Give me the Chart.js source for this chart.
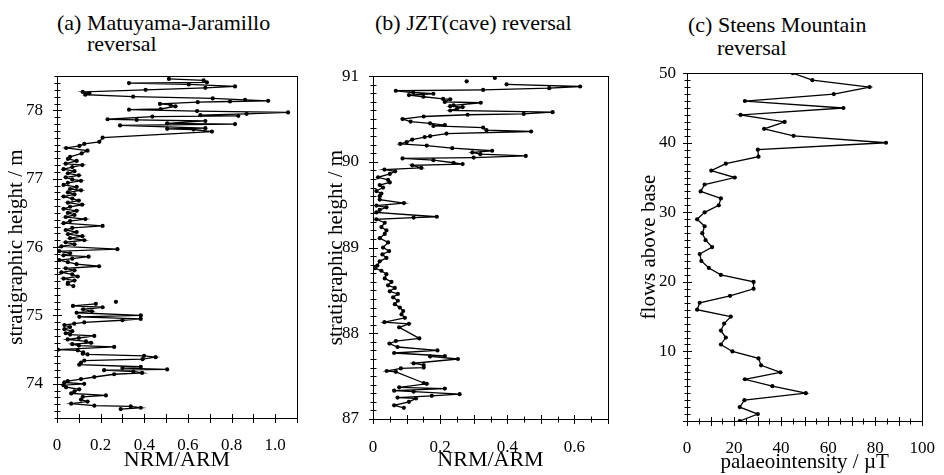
<!DOCTYPE html>
<html>
<head>
<meta charset="utf-8">
<script src="https://cdn.jsdelivr.net/npm/chart.js@4/dist/chart.umd.min.js"></script>
<style>
	body { margin: 0; background: #fff; }
	#page { position: relative; width: 944px; height: 475px; overflow: hidden; background: #fff; }
	canvas { position: absolute; }
	.ttl { position: absolute; font-family: 'Liberation Serif', serif; font-size: 22px; line-height: 22px; color: #000; white-space: nowrap; }
</style>
</head>
<body>
<div id="page">
	<div class="ttl" style="left:57px; top:12px;">(a) Matuyama-Jaramillo</div>
	<div class="ttl" style="left:87px; top:33px;">reversal</div>
	<div class="ttl" style="left:375px; top:12px;">(b) JZT(cave) reversal</div>
	<div class="ttl" style="left:688px; top:14px;">(c) Steens Mountain</div>
	<div class="ttl" style="left:717px; top:37px;">reversal</div>
	<canvas id="chartA" width="306" height="415" style="left:0px; top:60px;"></canvas>
	<canvas id="chartB" width="308" height="415" style="left:310px; top:60px;"></canvas>
	<canvas id="chartC" width="319" height="415" style="left:625px; top:60px;"></canvas>
</div>
<script>
'use strict';

// (a) Matuyama-Jaramillo: stratigraphic height (m) and NRM/ARM
var heightA1 = [78.46, 78.44, 78.41, 78.40, 78.38, 78.35, 78.33, 78.30, 78.27, 78.25, 78.23, 78.20, 78.175, 78.155, 78.14, 78.13,
	78.12, 78.095, 78.08, 78.06, 78.02, 78.01, 77.99, 77.97, 77.95, 77.93, 77.92, 77.91, 77.87, 77.86, 77.845, 77.81, 77.80,
	77.78, 77.74, 77.73, 77.72, 77.69, 77.60, 77.54, 77.51, 77.48, 77.45, 77.41, 77.37, 77.32, 77.29, 77.26, 77.22, 77.20,
	77.17, 77.14, 77.11, 77.08, 77.05, 77.02, 76.99, 76.97, 76.94, 76.91, 76.88, 76.85, 76.83, 76.80, 76.77, 76.74, 76.71,
	76.68, 76.65, 76.62, 76.59, 76.56, 76.53, 76.50, 76.47, 76.44, 76.41, 76.38, 76.35, 76.31, 76.28, 76.25, 76.22, 76.19,
	76.16, 76.13, 76.10, 76.07, 76.04, 76.01, 75.97, 75.94, 75.91, 75.88, 75.86, 75.83, 75.81, 75.78, 75.75, 75.72, 75.69,
	75.66, 75.63, 75.60, 75.57, 75.54, 75.51, 75.48, 75.46, 75.43];
var nrmA1 = [0.513, 0.672, 0.687, 0.330, 0.604, 0.816, 0.680, 0.406, 0.118, 0.148, 0.130, 0.349, 0.714, 0.862, 0.968, 0.793,
	0.645, 0.472, 0.520, 0.543, 0.475, 0.330, 0.642, 1.059, 0.869, 0.657, 0.831, 0.437, 0.232, 0.365, 0.680, 0.505, 0.816,
	0.289, 0.680, 0.505, 0.626, 0.710, 0.209, 0.194, 0.125, 0.103, 0.042, 0.140, 0.113, 0.06, 0.05, 0.09, 0.04, 0.116,
	0.07, 0.03, 0.08, 0.05, 0.10, 0.04, 0.07, 0.11, 0.05, 0.03, 0.09, 0.06, 0.11, 0.05, 0.08, 0.03, 0.07,
	0.10, 0.05, 0.115, 0.06, 0.03, 0.09, 0.05, 0.08, 0.04, 0.13, 0.06, 0.03, 0.209, 0.07, 0.04, 0.09, 0.05,
	0.116, 0.06, 0.125, 0.04, 0.08, 0.02, 0.277, 0.01, 0.06, 0.03, 0.145, 0.07, 0.01, 0.05, 0.09, 0.193, 0.04,
	0.08, 0.02, 0.07, 0.095, 0.03, 0.08, 0.05, 0.049, 0.075];
var heightA2 = [75.17, 75.14, 75.12, 75.09, 75.06, 75.04, 75.00, 74.98, 74.95, 74.93, 74.90, 74.88, 74.86, 74.83, 74.80, 74.77,
	74.74, 74.72, 74.70, 74.67, 74.65, 74.62, 74.60, 74.58, 74.56, 74.54, 74.50, 74.49, 74.46, 74.44, 74.43, 74.41, 74.39,
	74.36, 74.34, 74.31, 74.28, 74.25, 74.23, 74.21, 74.20, 74.18, 74.16, 74.14, 74.10, 74.07, 74.04, 74.02, 74.00, 73.98,
	73.95, 73.92, 73.89, 73.86, 73.83, 73.81, 73.77, 73.74, 73.71, 73.68, 73.67, 73.65, 73.63];
var nrmA2 = [0.178, 0.073, 0.209, 0.12, 0.16, 0.09, 0.384, 0.102, 0.384, 0.30, 0.125, 0.079, 0.034, 0.06, 0.034, 0.07,
	0.04, 0.06, 0.171, 0.10, 0.049, 0.133, 0.156, 0.07, 0.10, 0.262, 0.004, 0.095, 0.12, 0.118, 0.14, 0.399, 0.452,
	0.392, 0.125, 0.11, 0.102, 0.384, 0.30, 0.505, 0.216, 0.35, 0.39, 0.262, 0.171, 0.11, 0.049, 0.034, 0.125, 0.03,
	0.042, 0.102, 0.08, 0.065, 0.224, 0.118, 0.11, 0.14, 0.065, 0.171, 0.338, 0.384, 0.292];
var heightA3 = [75.20];
var nrmA3 = [0.27];

// (b) JZT(cave)
var heightB1 = [90.905, 90.88, 90.86, 90.84, 90.83, 90.81, 90.795, 90.78, 90.76, 90.735, 90.73, 90.70, 90.69, 90.66, 90.65,
	90.64, 90.62, 90.60, 90.58, 90.56, 90.55, 90.53, 90.50, 90.47, 90.45, 90.43, 90.42, 90.40, 90.37, 90.355, 90.33, 90.30,
	90.29, 90.26, 90.23, 90.21, 90.19, 90.16, 90.13, 90.11, 90.09, 90.07, 90.05, 90.04, 90.02, 89.99, 89.975, 89.96, 89.93,
	89.91, 89.89, 89.86, 89.82, 89.79, 89.76, 89.73, 89.70, 89.66, 89.63, 89.60, 89.56, 89.52, 89.49, 89.47, 89.44, 89.41,
	89.36, 89.35, 89.33, 89.29, 89.24, 89.20, 89.16, 89.11, 89.06, 89.00, 88.96, 88.92, 88.88, 88.84, 88.79, 88.76, 88.73,
	88.69, 88.64, 88.60, 88.56, 88.53, 88.49, 88.46, 88.42, 88.38, 88.34, 88.30, 88.26, 88.22, 88.18, 88.13, 88.11, 88.07,
	87.94, 87.91, 87.88, 87.84, 87.80, 87.77, 87.735, 87.73, 87.70, 87.65, 87.63, 87.60, 87.59, 87.56, 87.55, 87.42, 87.41,
	87.37, 87.355, 87.33, 87.32, 87.29, 87.27, 87.25, 87.24, 87.20, 87.16, 87.13];
var nrmB1 = [0.398, 0.617, 0.525, 0.328, 0.068, 0.12, 0.18, 0.107, 0.15, 0.209, 0.23, 0.214, 0.321, 0.24, 0.23,
	0.267, 0.25, 0.23, 0.535, 0.449, 0.282, 0.151, 0.088, 0.112, 0.17, 0.214, 0.18, 0.328, 0.338, 0.471, 0.219, 0.17,
	0.154, 0.117, 0.10, 0.081, 0.16, 0.236, 0.355, 0.296, 0.32, 0.455, 0.30, 0.088, 0.18, 0.24, 0.267, 0.117, 0.144,
	0.034, 0.066, 0.05, 0.015, 0.045, 0.05, 0.02, 0.03, 0.01, 0.025, 0.02, 0.02, 0.092, 0.01, 0.04, 0.02, 0.01,
	0.19, 0.121, 0.01, 0.035, 0.025, 0.04, 0.035, 0.02, 0.045, 0.03, 0.048, 0.028, 0.04, 0.02, 0.013, 0.006, 0.025,
	0.04, 0.035, 0.055, 0.045, 0.065, 0.05, 0.074, 0.06, 0.074, 0.065, 0.08, 0.09, 0.085, 0.095, 0.034, 0.107, 0.078,
	0.138, 0.068, 0.049, 0.073, 0.192, 0.063, 0.214, 0.17, 0.253, 0.121, 0.151, 0.151, 0.083, 0.041, 0.068, 0.151, 0.16,
	0.078, 0.214, 0.063, 0.121, 0.258, 0.175, 0.073, 0.128, 0.107, 0.063, 0.092];
var heightB2 = [90.98, 90.94];
var nrmB2 = [0.363, 0.279];

// (c) Steens Mountain: flows above base and palaeointensity (uT)
var flowsC = [0, 1, 2, 3, 4, 5, 6, 7, 8, 9, 10, 11, 12, 13, 14, 15, 16, 17, 18, 19, 20, 21, 22, 23, 24, 25,
	26, 27, 28, 29, 30, 31, 32, 33, 34, 35, 36, 37, 38, 39, 40, 41, 42, 43, 44, 45, 46, 47, 48, 49, 50];
var intensityC = [22.4, 30.1, 22.4, 24.4, 50.5, 36.3, 24.6, 39.7, 31.5, 30.4, 19.3, 14.4, 16.5, 14.4, 15.8, 18.6,
	4.3, 5.4, 18.3, 28.3, 28.3, 14.4, 9.3, 6.1, 5.4, 10.7, 7.9, 6.5, 7.5, 4.3, 7.5, 13.5, 14.4, 5.8, 7.5, 20.3,
	10.3, 16.5, 30.4, 30.1, 84.6, 45.3, 32.8, 41.5, 22.8, 66.5, 24.6, 62.4, 77.6, 53.3, 45];

var serif = "'Liberation Serif', 'Times New Roman', serif";

function toPoints(xs, ys) {
	return xs.map(function (x, i) { return { x: x, y: ys[i] }; });
}

function lineSet(xs, ys) {
	return { data: toPoints(xs, ys), showLine: true, borderColor: '#000', borderWidth: 1.3,
		backgroundColor: '#000', pointRadius: 2.1, pointBorderWidth: 0, pointHoverRadius: 2.1 };
}

function dotSet(xs, ys) {
	return { data: toPoints(xs, ys), showLine: false, backgroundColor: '#000', pointRadius: 2.1,
		pointBorderWidth: 0 };
}

function near(v, step) {
	return Math.abs(v / step - Math.round(v / step)) < 1e-6;
}

// frame + ticks crossing the axis lines
var axisMarks = {
	id: 'axisMarks',
	afterDraw: function (chart) {
		var ctx = chart.ctx, a = chart.chartArea;
		var xs = chart.scales.x, ys = chart.scales.y;
		var major = chart.options.plugins.axisMarks;
		ctx.save();
		ctx.strokeStyle = '#000';
		ctx.lineWidth = 1;
		ctx.strokeRect(Math.round(a.left) + 0.5, Math.round(a.top) + 0.5, Math.round(a.right - a.left), Math.round(a.bottom - a.top));
		ctx.beginPath();
		xs.ticks.forEach(function (t) {
			var px = Math.round(xs.getPixelForValue(t.value)) + 0.5;
			var len = near(t.value, major.x) ? 4 : 2.5;
			ctx.moveTo(px, Math.round(a.bottom) - len);
			ctx.lineTo(px, Math.round(a.bottom) + len + 1);
		});
		ys.ticks.forEach(function (t) {
			var py = Math.round(ys.getPixelForValue(t.value)) + 0.5;
			var len = near(t.value, major.y) ? 4 : 2.5;
			ctx.moveTo(Math.round(a.left) - len, py);
			ctx.lineTo(Math.round(a.left) + len + 1, py);
		});
		ctx.stroke();
		ctx.restore();
	}
};

function makeChart(id, datasets, o) {
	var ctx = document.getElementById(id).getContext('2d');
	return new Chart(ctx, {
		type: 'scatter',
		data: { datasets: datasets },
		plugins: [axisMarks],
		options: {
			responsive: false,
			animation: false,
			devicePixelRatio: 1,
			layout: { padding: o.padding },
			plugins: {
				legend: { display: false },
				tooltip: { enabled: false },
				axisMarks: { x: o.xMajor, y: o.yMajor }
			},
			scales: {
				x: {
					type: 'linear', min: o.xMin, max: o.xMax,
					grid: { display: false },
					border: { display: true, color: '#000', width: 1 },
					ticks: {
						stepSize: o.xStep, autoSkip: false, maxRotation: 0, padding: o.xPad,
						color: '#000', font: { family: serif, size: 17 },
						callback: function (v) { return near(v, o.xLabel) ? o.xFmt(v) : ''; }
					},
					title: { display: true, text: o.xTitle, color: '#000',
						font: { family: serif, size: o.xTitleSize }, padding: { top: 0, bottom: o.xTitlePad } },
					afterFit: function (s) { s.height = o.xHeight; }
				},
				y: {
					type: 'linear', min: o.yMin, max: o.yMax,
					grid: { display: false },
					border: { display: true, color: '#000', width: 1 },
					ticks: {
						stepSize: o.yStep, autoSkip: false, padding: o.yPad,
						color: '#000', font: { family: serif, size: 17 },
						callback: function (v) { return (near(v, o.yLabel) && v > 0) ? String(Math.round(v)) : ''; }
					},
					title: { display: true, text: o.yTitle, color: '#000',
						font: { family: serif, size: 21 }, padding: { top: o.yTitlePad, bottom: 0 } },
					afterFit: function (s) { s.width = o.yWidth; }
				}
			}
		}
	});
}

function decimalFmt(v) {
	return Math.abs(v) < 1e-9 ? '0' : v.toFixed(1);
}

makeChart('chartA', [lineSet(nrmA1, heightA1), lineSet(nrmA2, heightA2), dotSet(nrmA3, heightA3)], {
	padding: { top: 7, right: 7, left: 0, bottom: 0 },
	xMin: 0, xMax: 1.1, xStep: 0.1, xMajor: 0.1, xLabel: 0.2, xFmt: decimalFmt, xPad: 9,
	xTitle: 'NRM/ARM', xTitleSize: 22, xTitlePad: 2, xHeight: 57,
	yMin: 73.5, yMax: 78.5, yStep: 0.1, yMajor: 1, yLabel: 1, yPad: 6,
	yTitle: 'stratigraphic height / m', yTitlePad: 4, yWidth: 57
});

makeChart('chartB', [lineSet(nrmB1, heightB1), dotSet(nrmB2, heightB2)], {
	padding: { top: 8, right: 7, left: 0, bottom: 0 },
	xMin: 0, xMax: 0.7, xStep: 0.05, xMajor: 0.1, xLabel: 0.2, xFmt: decimalFmt, xPad: 10,
	xTitle: 'NRM/ARM', xTitleSize: 22, xTitlePad: 2, xHeight: 56,
	yMin: 87, yMax: 91, yStep: 0.1, yMajor: 1, yLabel: 1, yPad: 6,
	yTitle: 'stratigraphic height / m', yTitlePad: 14, yWidth: 63
});

makeChart('chartC', [lineSet(intensityC, flowsC)], {
	padding: { top: 10, right: 17, left: 0, bottom: 0 },
	xMin: 0, xMax: 100, xStep: 5, xMajor: 10, xLabel: 20, xFmt: function (v) { return String(Math.round(v)); }, xPad: 9,
	xTitle: 'palaeointensity / \u00b5T', xTitleSize: 21, xTitlePad: 0, xHeight: 54,
	yMin: 0, yMax: 50, yStep: 1, yMajor: 10, yLabel: 10, yPad: 3,
	yTitle: 'flows above base', yTitlePad: 12, yWidth: 62
});
</script>
</body>
</html>
